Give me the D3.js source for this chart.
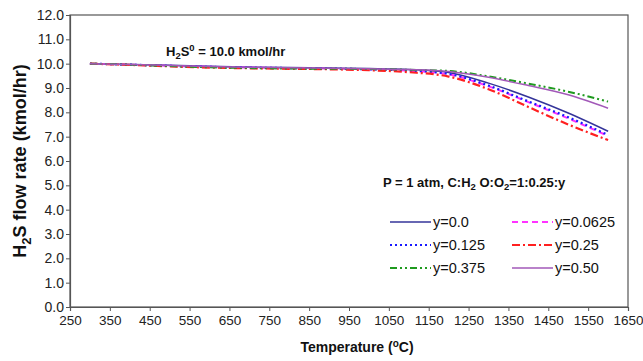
<!DOCTYPE html>
<html>
<head>
<meta charset="utf-8">
<script src="https://cdn.jsdelivr.net/npm/d3@7"></script>
<style>
  body { margin: 0; background: #fff; }
  svg { font-family: "Liberation Sans", Arial, sans-serif; }
</style>
</head>
<body>
<div id="chart"></div>
<script>
// temperatures (deg C) where the curves were read
const temps = [300, 400, 500, 600, 700, 800, 900, 1000, 1100, 1200, 1300, 1400, 1500, 1600];

// H2S flow rate (kmol/hr) for each O2 ratio y
const y000 = [10.0, 9.97, 9.93, 9.89, 9.86, 9.84, 9.82, 9.80, 9.76, 9.64, 9.20, 8.63, 7.97, 7.22];
const y0625 = [10.0, 9.96, 9.91, 9.87, 9.84, 9.82, 9.80, 9.77, 9.71, 9.56, 9.07, 8.42, 7.75, 7.03];
const y125 = [10.0, 9.96, 9.91, 9.87, 9.84, 9.82, 9.80, 9.77, 9.72, 9.58, 9.10, 8.45, 7.80, 7.07];
const y250 = [10.0, 9.95, 9.89, 9.84, 9.81, 9.79, 9.77, 9.73, 9.65, 9.47, 8.95, 8.22, 7.50, 6.86];
const y375 = [10.0, 9.96, 9.90, 9.85, 9.82, 9.80, 9.79, 9.78, 9.75, 9.70, 9.48, 9.18, 8.85, 8.44];
const y500 = [10.0, 9.97, 9.92, 9.88, 9.85, 9.83, 9.81, 9.79, 9.76, 9.68, 9.44, 9.10, 8.72, 8.17];

const xTicks = d3.range(250, 1651, 100);
const yTicks = d3.range(0, 12.01, 1);

const series = [
  { label: 'y=0.0', values: y000, color: '#34349a', dash: null, width: 1.5 },
  { label: 'y=0.0625', values: y0625, color: '#ff33ff', dash: '6,4', width: 2 },
  { label: 'y=0.125', values: y125, color: '#1a1aff', dash: '2,3', width: 2.2 },
  { label: 'y=0.25', values: y250, color: '#ff2020', dash: '8,3,2,3', width: 2.2 },
  { label: 'y=0.375', values: y375, color: '#1f9a1f', dash: '7,3,2,3,2,3', width: 2 },
  { label: 'y=0.50', values: y500, color: '#a259b8', dash: null, width: 1.5 }
];

const W = 643, H = 361;
const margin = { top: 15, right: 15, bottom: 54, left: 70 };
const w = W - margin.left - margin.right;
const h = H - margin.top - margin.bottom;

const svg = d3.select('#chart').append('svg')
  .attr('width', W)
  .attr('height', H);

const g = svg.append('g')
  .attr('transform', `translate(${margin.left}, ${margin.top})`);

const x = d3.scaleLinear().domain([250, 1650]).range([0, w]);
const y = d3.scaleLinear().domain([0, 12]).range([h, 0]);

// frame
g.append('rect')
  .attr('width', w).attr('height', h)
  .attr('fill', 'none').attr('stroke', '#555').attr('stroke-width', 1.2);

const xAxis = g.append('g')
  .attr('transform', `translate(0, ${h})`)
  .call(d3.axisBottom(x).tickValues(xTicks).tickSize(4).tickPadding(4).tickFormat(d3.format('d')));

const yAxis = g.append('g')
  .call(d3.axisLeft(y).tickValues(yTicks).tickSize(4).tickPadding(2).tickFormat(d3.format('.1f')));

[xAxis, yAxis].forEach(a => {
  a.select('.domain').attr('stroke', '#555').attr('stroke-width', 1.2);
  a.selectAll('.tick line').attr('stroke', '#555');
  a.selectAll('.tick text').attr('fill', '#222');
});
xAxis.selectAll('.tick text').style('font-size', '13.5px');
yAxis.selectAll('.tick text').style('font-size', '14px');

// curves
const line = d3.line()
  .x((d, i) => x(temps[i]))
  .y(d => y(d))
  .curve(d3.curveMonotoneX);

series.forEach(s => {
  g.append('path')
    .datum(s.values)
    .attr('fill', 'none')
    .attr('stroke', s.color)
    .attr('stroke-width', s.width)
    .attr('stroke-dasharray', s.dash)
    .attr('d', line);
});

// axis titles
svg.append('text')
  .attr('transform', `translate(26, ${margin.top + h / 2}) rotate(-90)`)
  .attr('text-anchor', 'middle')
  .style('font-size', '18px').style('font-weight', 'bold').attr('fill', '#111')
  .call(t => {
    t.append('tspan').text('H');
    t.append('tspan').text('2').attr('dy', 5).style('font-size', '13px');
    t.append('tspan').text('S flow rate (kmol/hr)').attr('dy', -5);
  });

svg.append('text')
  .attr('x', margin.left + w / 2 + 8).attr('y', 352)
  .attr('text-anchor', 'middle')
  .style('font-size', '14px').style('font-weight', 'bold').attr('fill', '#111')
  .call(t => {
    t.append('tspan').text('Temperature (');
    t.append('tspan').text('o').attr('dy', -5).style('font-size', '10px');
    t.append('tspan').text('C)').attr('dy', 5);
  });

// annotations
svg.append('text')
  .attr('x', 166).attr('y', 56)
  .style('font-size', '13px').style('font-weight', 'bold').attr('fill', '#111')
  .call(t => {
    t.append('tspan').text('H');
    t.append('tspan').text('2').attr('dy', 3).style('font-size', '9.5px');
    t.append('tspan').text('S').attr('dy', -3);
    t.append('tspan').text('0').attr('dy', -5).style('font-size', '9.5px');
    t.append('tspan').text(' = 10.0 kmol/hr').attr('dy', 5);
  });

svg.append('text')
  .attr('x', 383).attr('y', 187)
  .style('font-size', '13px').style('font-weight', 'bold').attr('fill', '#111')
  .call(t => {
    t.append('tspan').text('P = 1 atm, C:H');
    t.append('tspan').text('2').attr('dy', 3).style('font-size', '9.5px');
    t.append('tspan').text(' O:O').attr('dy', -3);
    t.append('tspan').text('2').attr('dy', 3).style('font-size', '9.5px');
    t.append('tspan').text('=1:0.25:y').attr('dy', -3);
  });

// legend
const legend = svg.append('g');
series.forEach((s, i) => {
  const col = i % 2, row = Math.floor(i / 2);
  const lx = col === 0 ? 390 : 512;
  const ly = 222 + row * 23;
  legend.append('line')
    .attr('x1', lx).attr('x2', lx + 41)
    .attr('y1', ly).attr('y2', ly)
    .attr('stroke', s.color)
    .attr('stroke-width', s.width)
    .attr('stroke-dasharray', s.dash);
  legend.append('text')
    .attr('x', lx + 43).attr('y', ly + 5)
    .style('font-size', '14.5px').attr('fill', '#111')
    .text(s.label);
});
</script>
</body>
</html>
